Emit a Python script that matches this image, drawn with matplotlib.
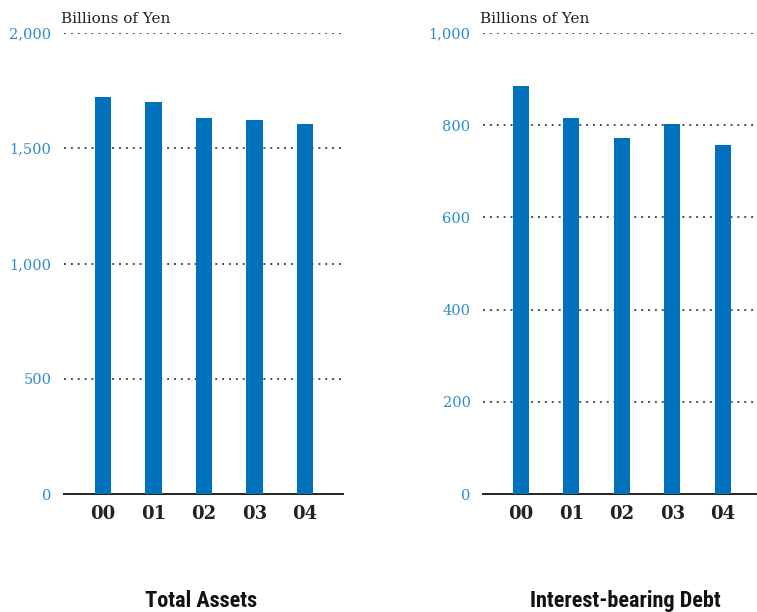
import matplotlib
matplotlib.use("Agg")
import matplotlib.pyplot as plt
from matplotlib import font_manager

years = ["00", "01", "02", "03", "04"]
total_assets = [1722, 1701, 1631, 1623, 1605]
debt = [885, 816, 772, 803, 757]
left_ticks = [0, 500, 1000, 1500, 2000]
left_labels = ["0", "500", "1,000", "1,500", "2,000"]
right_ticks = [0, 200, 400, 600, 800, 1000]
right_labels = ["0", "200", "400", "600", "800", "1,000"]
titles = ["Total Assets", "Interest-bearing Debt"]
unit = "Billions of Yen"

BAR = "#0071bc"
TICK = "#2e8bcc"

names = {f.name for f in font_manager.fontManager.ttflist}
cond_candidates = ["Liberation Sans Narrow", "DejaVu Sans Condensed", "Roboto Condensed",
                   "Open Sans Condensed"]
cond = [n for n in cond_candidates if n in names]
cond_stretch = "normal"
if not cond:
    cond = ["DejaVu Sans"]
    cond_stretch = "condensed"

fig = plt.figure(figsize=(7.57, 6.12), dpi=100)
ax1 = fig.add_axes([64/757, 118/612, 279/757, 461/612])
ax2 = fig.add_axes([483/757, 118/612, 276/757, 461/612])

serif = ["DejaVu Serif"]

def style(ax, vals, ticks, labels, ymax, xlim, title, title_x):
    x = list(range(len(years)))
    ax.bar(x, vals, width=0.32, color=BAR, zorder=3)
    ax.set_ylim(0, ymax)
    ax.set_xlim(*xlim)
    ax.set_yticks(ticks)
    ax.set_yticklabels(labels, fontfamily=serif, fontsize=10.5, color=TICK)
    ax.set_xticks(x)
    ax.set_xticklabels(years, fontfamily=serif, fontsize=13, fontweight="bold", color="#222222")
    ax.tick_params(axis="y", length=0, pad=9)
    ax.tick_params(axis="x", length=0, pad=8)
    for t in ticks[1:]:
        ax.axhline(t, color="#222222", linestyle=(0, (1.3, 3.2)), linewidth=1.1, zorder=1)
    for s in ["top", "right", "left"]:
        ax.spines[s].set_visible(False)
    ax.spines["bottom"].set_color("#222222")
    ax.spines["bottom"].set_linewidth(1.4)
    ax.text(-0.01, 1 + 7/461, unit, transform=ax.transAxes, fontfamily=serif, fontsize=11,
            color="#222222", ha="left", va="bottom")
    fig.text(title_x, 5/612, title, fontfamily=cond, fontstretch=cond_stretch, fontsize=16,
             fontweight="bold", ha="center", va="baseline", color="#111111")

style(ax1, total_assets, left_ticks, left_labels, 2000, (-0.77, 4.75), titles[0], 201/757)
style(ax2, debt, right_ticks, right_labels, 1000, (-0.75, 4.72), titles[1], 625/757)

fig.savefig("out.png", dpi=100)
